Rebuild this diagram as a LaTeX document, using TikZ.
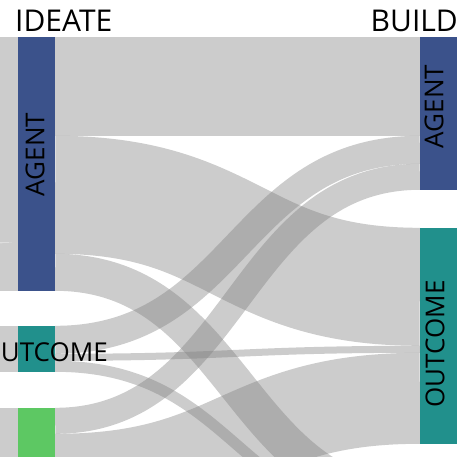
\documentclass[tikz,border=0pt]{standalone}
\usepackage{fontspec}
\setmainfont{Open Sans}
\definecolor{vblue}{HTML}{3B528B}
\definecolor{vteal}{HTML}{21908C}
\definecolor{vgreen}{HTML}{5DC863}
\tikzset{
  bar/.style={draw=none, inner sep=0pt, minimum width=37pt},
  link/.style={draw=black!50, draw opacity=0.4, line cap=butt},
  inflow/.style={fill=black!50, fill opacity=0.4},
  title/.style={inner sep=0pt, font=\fontsize{30}{30}\selectfont},
  lbl/.style={inner sep=0pt, font=\fontsize{26}{26}\selectfont},
}
% #1 source node, #2 offset of link centre below source top, #3 target node, #4 offset below target top, #5 width
\newcommand\sklink[5]{%
  \draw[link, line width=#5pt] ([yshift=-#2pt]#1.north east)
    .. controls +(182.5pt,0pt) and +(-182.5pt,0pt) .. ([yshift=-#4pt]#3.north west);}
\begin{document}
\begin{tikzpicture}[x=1pt, y=-1pt]
\useasboundingbox (0,0) rectangle (468,456);
\fill[white] (0,0) rectangle (468,456);
\clip (0,0) rectangle (468,456);
% nodes (IDEATE column)
\node[bar, minimum height=254pt] (AL) at (36.5,164) {};
\node[bar, minimum height=46pt] (OL) at (36.5,349) {};
\node[bar, minimum height=132pt] (GL) at (36.5,474) {};
% nodes (BUILD column)
\node[bar, minimum height=153pt] (AR) at (438.5,113.5) {};
\node[bar, minimum height=216pt] (OR) at (438.5,336) {};
\node[bar, minimum height=63pt] (XR) at (438.5,513.5) {};
% inflows from the previous column
\fill[inflow] ([xshift=-40pt]AL.north west) rectangle (AL.south west);
\fill[inflow] ([xshift=-40pt]OL.north west) rectangle (OL.south west);
\fill[inflow] ([xshift=-40pt]GL.north west) rectangle (GL.south west);
\fill[white] ([xshift=-40pt,yshift=-205.3pt]AL.north west) -- ([xshift=-6pt,yshift=-206pt]AL.north west) -- ([xshift=-40pt,yshift=-206.7pt]AL.north west) -- cycle;
% links
\sklink{AL}{49.5}{AR}{49.5}{99}
\sklink{AL}{158}{OR}{59}{118}
\sklink{AL}{235.5}{XR}{18.5}{37}
\sklink{OL}{14}{AR}{113}{28}
\sklink{OL}{31.5}{OR}{121.5}{7}
\sklink{OL}{40.5}{XR}{42.5}{11}
\sklink{GL}{13}{AR}{140}{26}
\sklink{GL}{71.5}{OR}{170.5}{91}
\sklink{GL}{124.5}{XR}{55.5}{15}
% bars on top
\fill[vblue] (AL.north west) rectangle (AL.south east);
\fill[vteal] (OL.north west) rectangle (OL.south east);
\fill[vgreen] (GL.north west) rectangle (GL.south east);
\fill[vblue] (AR.north west) rectangle (AR.south east);
\fill[vteal] (OR.north west) rectangle (OR.south east);
\fill[vgreen] (XR.north west) rectangle (XR.south east);
% labels
\node[title, anchor=base west] (tI) at (15,31) {IDEATE};
\node[title, anchor=base east] (tB) at (458,31) {BUILD};
\node[lbl, rotate=90] (lAL) at (35,154.5) {AGENT};
\node[lbl, rotate=90] (lAR) at (434,106.5) {AGENT};
\node[lbl, rotate=90] (lOR) at (435,344) {OUTCOME};
\node[lbl, anchor=base east] (lOL) at (108,361) {OUTCOME};
\end{tikzpicture}
\end{document}
